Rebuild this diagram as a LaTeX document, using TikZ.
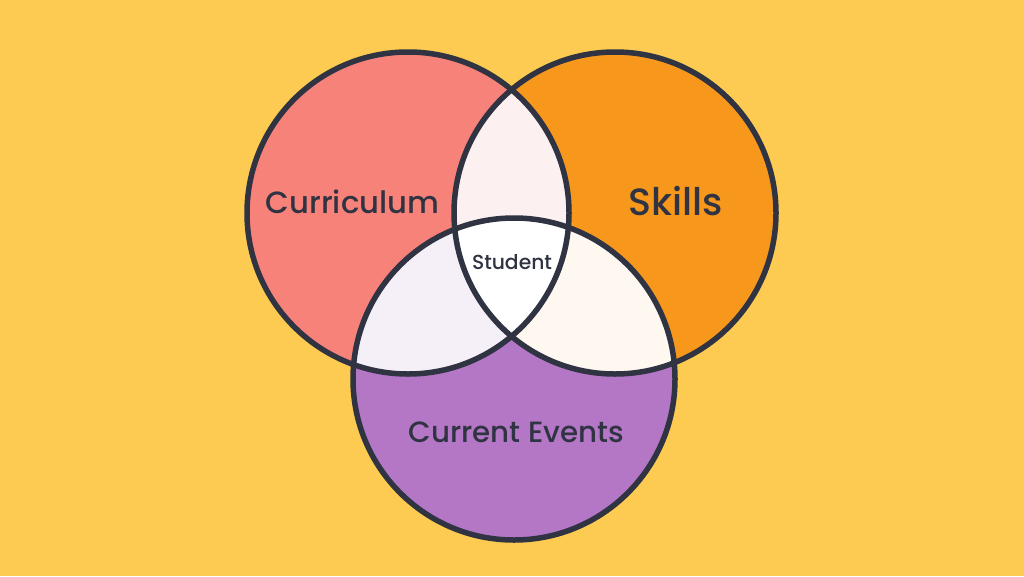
\documentclass[tikz,border=0pt]{standalone}
\usepackage{fontspec}
\setmainfont{Poppins}[UprightFont=* Medium]
\definecolor{bgc}{HTML}{FECB52}
\definecolor{salmon}{HTML}{F7827A}
\definecolor{orangec}{HTML}{F7981D}
\definecolor{purplec}{HTML}{B477C6}
\definecolor{lrc}{HTML}{FDF0F0}
\definecolor{lbc}{HTML}{F5F0F8}
\definecolor{rbc}{HTML}{FEF8F1}
\definecolor{inkc}{HTML}{2F3342}
\tikzset{
  ring/.style={circle, minimum size=322pt, inner sep=0pt},
  outline/.style={draw=inkc, line width=5.5pt},
  lbl/.style={text=inkc, inner sep=0pt}
}
\begin{document}
\begin{tikzpicture}[x=1pt,y=-1pt]
\fill[bgc] (0,0) rectangle (1024,576);
\useasboundingbox (0,0) rectangle (1024,576);
\node[ring, fill=salmon] (cur) at (408,213) {};
\node[ring, fill=orangec] (ski) at (615,213) {};
\node[ring, fill=purplec] (evt) at (514,379) {};
\begin{scope}
  \clip (cur.center) circle[radius=161];
  \fill[lrc] (ski.center) circle[radius=161];
  \fill[lbc] (evt.center) circle[radius=161];
\end{scope}
\begin{scope}
  \clip (ski.center) circle[radius=161];
  \fill[rbc] (evt.center) circle[radius=161];
  \clip (evt.center) circle[radius=161];
  \clip (cur.center) circle[radius=161];
  \fill[white] (ski.center) circle[radius=161];
\end{scope}
\draw[outline] (cur.center) circle[radius=161];
\draw[outline] (ski.center) circle[radius=161];
\draw[outline] (evt.center) circle[radius=161];
\node[lbl, font=\fontsize{30.7}{36}\selectfont] (tcur) at (352.5,202) {Curriculum};
\node[lbl, font=\fontsize{38}{44}\selectfont] (tski) at (676,201) {Skills};
\node[lbl, font=\fontsize{29.3}{34}\selectfont] (tevt) at (516.5,432) {Current Events};
\node[lbl, font=\fontsize{20.3}{24}\selectfont] (tstu) at (512,262) {Student};
\end{tikzpicture}
\end{document}
